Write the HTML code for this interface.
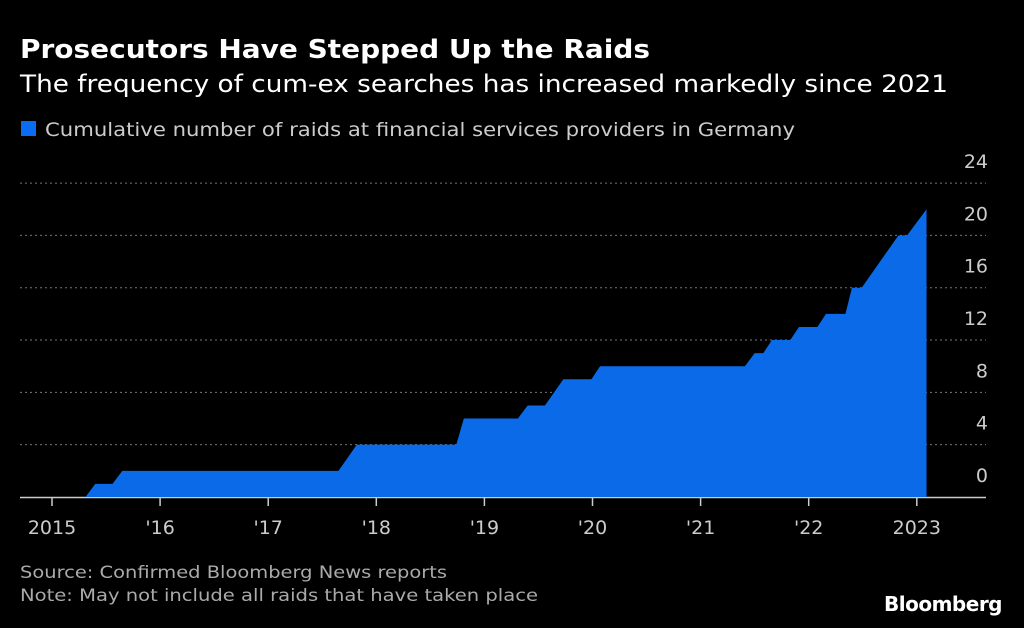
<!DOCTYPE html>
<html><head><meta charset="utf-8"><style>
body{margin:0;background:#000;width:1024px;height:624px;overflow:hidden;font-family:"DejaVu Sans","Liberation Sans",sans-serif}
</style></head><body>
<svg width="1024" height="624">
<text x="20" y="58" fill="#fff" font-size="26" font-weight="bold" textLength="630" lengthAdjust="spacingAndGlyphs">Prosecutors Have Stepped Up the Raids</text>
<text x="20" y="92" fill="#fff" font-size="24" textLength="928" lengthAdjust="spacingAndGlyphs">The frequency of cum-ex searches has increased markedly since 2021</text>
<rect x="21" y="121" width="15" height="15" fill="#0a6cf0"/>
<text x="45" y="136" fill="#ccc" font-size="19" textLength="750" lengthAdjust="spacingAndGlyphs">Cumulative number of raids at financial services providers in Germany</text>
<g id="grid"></g><g id="area"></g><g id="xax"></g>
<text x="20" y="578" fill="#aaa" font-size="17" textLength="427" lengthAdjust="spacingAndGlyphs">Source: Confirmed Bloomberg News reports</text>
<text x="20" y="601" fill="#aaa" font-size="17" textLength="518" lengthAdjust="spacingAndGlyphs">Note: May not include all raids that have taken place</text>
<text x="1002" y="611" fill="#fff" font-size="20" font-weight="bold" text-anchor="end" letter-spacing="-0.5">Bloomberg</text>
</svg>
<script>
const dates=[2015.0,2015.31,2015.40,2015.56,2015.65,2017.65,2017.82,2018.74,2018.81,2019.31,2019.40,2019.56,2019.73,2019.99,2020.07,2021.41,2021.50,2021.58,2021.66,2021.83,2021.91,2022.08,2022.16,2022.34,2022.40,2022.49,2022.83,2022.91,2023.09];
const raids=[0,0,1,1,2,2,4,4,6,6,7,7,9,9,10,10,11,11,12,12,13,13,14,14,16,16,20,20,22];
const yTicks=[0,4,8,12,16,20,24];
const xTicks=[2015,2016,2017,2018,2019,2020,2021,2022,2023];
const xLabels=["2015","'16","'17","'18","'19","'20","'21","'22","2023"];
const X=v=>52+(v-2015)*108.1, Y=v=>497-v*13.08;
const NS="http://www.w3.org/2000/svg";
function mk(t,a,p){const e=document.createElementNS(NS,t);for(const k in a)e.setAttribute(k,a[k]);p.appendChild(e);return e;}
const g=document.getElementById('grid');
yTicks.forEach(t=>{
 if(t>0){const l=mk('line',{x1:20,x2:986,y1:Y(t),y2:Y(t),stroke:'#777','stroke-dasharray':'2,3','stroke-width':1},g);
 
 }
 const tx=mk('text',{x:988,y:Y(t)-15,fill:'#ccc','font-size':19,'text-anchor':'end'},g);tx.textContent=t;
 
 
});
const a=document.getElementById('area');
let d='M'+X(dates[0])+','+Y(0);
dates.forEach((v,i)=>d+=' L'+X(v)+','+Y(raids[i]));
d+=' L'+X(dates[dates.length-1])+','+Y(0)+' Z';
const xa=document.getElementById('xax');
const bl=mk('line',{x1:20,x2:986,y1:497.5,y2:497.5,stroke:'#ccc','stroke-width':1.5},a);


const p=mk('path',{d:d,fill:'#0a6ae8'},a);


xTicks.forEach((t,i)=>{
 const l=mk('line',{x1:X(t),x2:X(t),y1:498,y2:506,stroke:'#ccc','stroke-width':1.5},xa);
 
 
 const tx=mk('text',{x:X(t),y:534,fill:'#ccc','font-size':19,'text-anchor':'middle'},xa);tx.textContent=xLabels[i];
 
 
});
</script>
</body></html>
